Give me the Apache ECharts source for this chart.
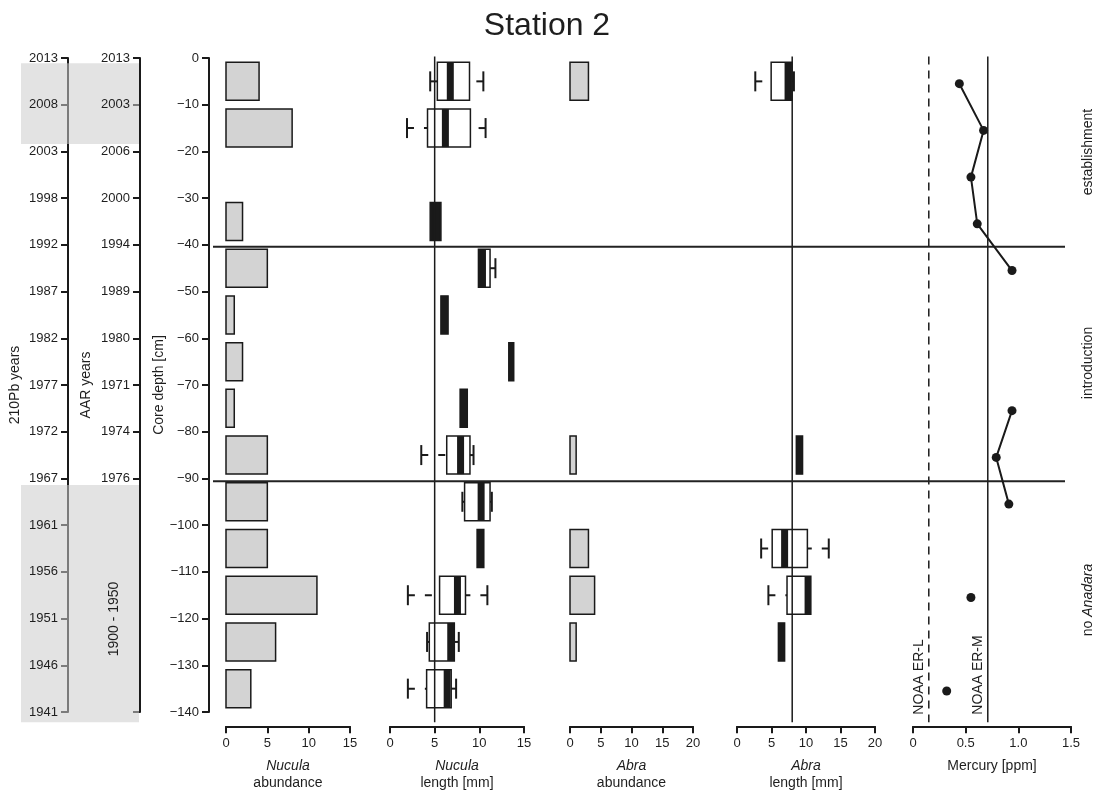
<!DOCTYPE html>
<html>
<head>
<meta charset="utf-8">
<script src="https://cdn.jsdelivr.net/npm/echarts@6/dist/echarts.min.js"></script>
<style>html,body{margin:0;padding:0;background:#fff}#c{width:1100px;height:792px}</style>
</head>
<body>
<div id="c"></div>
<script>
// ---------------- data ----------------
const depths = [-5,-15,-25,-35,-45,-55,-65,-75,-85,-95,-105,-115,-125,-135];
const nuculaAbundance = [4,8,null,2,5,1,2,1,5,5,5,11,6,3];
const nuculaLenLo  = [4.5, 1.9, null, 4.5, 9.9, 5.7, 13.3, 7.85, 3.5, 8.1, 9.75, 2.0, 4.15, 2.0];
const nuculaLenQ1  = [5.3, 4.2, null, 4.5, 9.9, 5.7, 13.3, 7.85, 6.35, 8.35, 9.75, 5.55, 4.4, 4.1];
const nuculaLenMed = [6.75, 6.2, null, 5.1, 10.35, 6.1, 13.4, 8.25, 7.9, 10.2, 10.1, 7.55, 6.8, 6.4];
const nuculaLenQ3  = [8.9, 9.0, null, 5.7, 11.2, 6.5, 13.85, 8.65, 8.95, 11.2, 10.5, 8.45, 7.2, 6.85];
const nuculaLenHi  = [10.45, 10.7, null, 5.7, 11.8, 6.5, 13.85, 8.65, 9.35, 11.4, 10.5, 10.9, 7.7, 7.4];
const abraAbundance = [3,null,null,null,null,null,null,null,1,null,3,4,1,null];
const abraLenLo  = [2.65, null,null,null,null,null,null,null, 8.6, null, 3.5, 4.55, 6.0, null];
const abraLenQ1  = [4.95, null,null,null,null,null,null,null, 8.6, null, 5.1, 7.25, 6.0, null];
const abraLenMed = [7.4,  null,null,null,null,null,null,null, 9.05, null, 6.9, 10.3, 6.45, null];
const abraLenQ3  = [7.95, null,null,null,null,null,null,null, 9.5, null, 10.2, 10.7, 6.9, null];
const abraLenHi  = [8.25, null,null,null,null,null,null,null, 9.5, null, 13.3, 10.7, 6.9, null];
const mercuryDepths = [-5.5,-15.5,-25.5,-35.5,-45.5,-55.5,-65.5,-75.5,-85.5,-95.5,-105.5,-115.5,-125.5,-135.5];
const mercury = [0.44,0.67,0.55,0.61,0.94,null,null,0.94,0.79,0.91,null,0.55,null,0.32];
const nuculaRefLength = 5;
const abraRefLength = 8;
const noaaERL = 0.15;
const noaaERM = 0.71;
const zoneBoundaries = [-40.4, -90.6];
const shadedRanges = [[-1.1, -18.4], [-91.4, -142.2]];
const pbYears = ['2013','2008','2003','1998','1992','1987','1982','1977','1972','1967','1961','1956','1951','1946','1941'];
const aarYears = ['2013','2003','2006','2000','1994','1989','1980','1971','1974','1976'];
const aarTickDepths = [0,-10,-20,-30,-40,-50,-60,-70,-80,-90,-140];
const aarLabelDepths = [0,-10,-20,-30,-40,-50,-60,-70,-80,-90];

// ---------------- layout ----------------
const FONT = "'Liberation Sans', Arial, sans-serif";
const INK = '#1a1a1a';
const TXT = '#1e1e1e';
const PXCM = (712 - 58) / 140;
const Y_MAX = 0.3, Y_MIN = -142.2;
const PTOP = 58 - Y_MAX * PXCM;
const PH = (Y_MAX - Y_MIN) * PXCM;

const panels = [
  {left:226, width:124, max:15, interval:5, name:'{i|Nucula}\nabundance'},
  {left:390, width:134, max:15, interval:5, name:'{i|Nucula}\nlength [mm]'},
  {left:570, width:123, max:20, interval:5, name:'{i|Abra}\nabundance'},
  {left:737, width:138, max:20, interval:5, name:'{i|Abra}\nlength [mm]'},
  {left:913, width:158, max:1.5, interval:0.5, name:'Mercury [ppm]'}
];

const G = o => Object.assign({containLabel:false, outerBoundsMode:'none'}, o);
const grids = [], xAxes = [], yAxes = [], series = [];
panels.forEach((p, i) => {
  grids.push(G({left:p.left, width:p.width, top:PTOP, height:PH}));
  xAxes.push({
    gridIndex:i, type:'value', min:0, max:p.max, interval:p.interval, position:'bottom', offset:4,
    axisLine:{show:true, onZero:false, lineStyle:{color:INK, width:2}},
    axisTick:{show:true, length:7, lineStyle:{color:INK, width:2}},
    axisLabel:{margin:11, fontSize:13, color:TXT, fontFamily:FONT,
      formatter: i === 4 ? (v => v === 0 ? '0' : v.toFixed(1)) : (v => String(v))},
    splitLine:{show:false},
    name:p.name, nameLocation:'middle', nameGap:31,
    nameTextStyle:{fontSize:14, color:TXT, fontFamily:FONT, lineHeight:17,
      rich:{i:{fontStyle:'italic', fontSize:14, color:TXT, fontFamily:FONT, lineHeight:17}}}
  });
  yAxes.push({gridIndex:i, type:'value', min:Y_MIN, max:Y_MAX, show:false});
});

// left axes grids: 5 = 210Pb, 6 = AAR, 7 = core depth
[68, 140, 209].forEach(x => grids.push(G({left:x, width:1, top:58, height:654})));
// 8 = zone line overlay, 9 = shading overlay
grids.push(G({left:213, width:852, top:PTOP, height:PH}));
grids.push(G({left:21, width:118, top:PTOP, height:PH}));
for (let g = 5; g <= 9; g++) xAxes.push({gridIndex:g, type:'value', min:0, max:1, show:false});

const lineAxisBase = {
  type:'value', min:-140, max:0, position:'left', z:0,
  axisLine:{show:true, onZero:false, lineStyle:{color:INK, width:2}},
  axisTick:{show:true, length:7, lineStyle:{color:INK, width:2}},
  axisLabel:{show:false}, splitLine:{show:false}
};
const labelAxisBase = {
  type:'value', min:-140, max:0, position:'left', z:10,
  axisLine:{show:false, onZero:false}, axisTick:{show:false}, splitLine:{show:false},
  nameLocation:'middle', nameRotate:90,
  nameTextStyle:{fontSize:14, color:TXT, fontFamily:FONT}
};
// 5: 210Pb line axis
yAxes.push(Object.assign({}, lineAxisBase, {gridIndex:5, interval:10}));
// 6: 210Pb label axis
yAxes.push(Object.assign({}, labelAxisBase, {gridIndex:5, interval:10, name:'210Pb years', nameGap:46,
  axisLabel:{margin:10, fontSize:13, color:TXT, fontFamily:FONT, formatter:v => pbYears[Math.round(-v/10)] || ''}}));
// 7: AAR line axis
yAxes.push(Object.assign({}, lineAxisBase, {gridIndex:6, interval:10,
  axisTick:{show:true, length:7, lineStyle:{color:INK, width:2}, customValues:aarTickDepths}}));
// 8: AAR label axis
yAxes.push(Object.assign({}, labelAxisBase, {gridIndex:6, interval:10, name:'AAR years', nameGap:47,
  axisLabel:{margin:10, fontSize:13, color:TXT, fontFamily:FONT, customValues:aarLabelDepths,
    formatter:v => aarYears[Math.round(-v/10)] || ''}}));
// 9: core depth axis
yAxes.push({type:'value', gridIndex:7, min:-140, max:0, interval:10, position:'left', z:10,
  axisLine:{show:true, onZero:false, lineStyle:{color:INK, width:2}},
  axisTick:{show:true, length:7, lineStyle:{color:INK, width:2}},
  axisLabel:{margin:10, fontSize:13, color:TXT, fontFamily:FONT, formatter:v => v === 0 ? '0' : '\u2212' + Math.abs(v)},
  splitLine:{show:false},
  name:'Core depth [cm]', nameLocation:'middle', nameRotate:90, nameGap:37,
  nameTextStyle:{fontSize:14, color:TXT, fontFamily:FONT}});
// 10, 11 overlays
yAxes.push({gridIndex:8, type:'value', min:Y_MIN, max:Y_MAX, show:false});
yAxes.push({gridIndex:9, type:'value', min:Y_MIN, max:Y_MAX, show:false});

// ---------------- renderers ----------------
const HALF = 19, CAP = 10, BAND = 7;
function barRender(params, api) {
  const d = api.value(0), v = api.value(1);
  const p0 = api.coord([0, d]), p1 = api.coord([v, d]);
  return {type:'rect', shape:{x:p0[0], y:p0[1]-HALF, width:p1[0]-p0[0], height:2*HALF},
    style:{fill:'#d3d3d3', stroke:INK, lineWidth:1.5}};
}
function boxRender(params, api) {
  const d = api.value(0);
  const X = v => api.coord([v, d])[0];
  const yc = api.coord([0, d])[1];
  const xl = X(api.value(1)), x1 = X(api.value(2)), xm = X(api.value(3)), x3 = X(api.value(4)), xh = X(api.value(5));
  const ch = [];
  if (x1 - xl > 0.5) ch.push({type:'line', shape:{x1:xl, y1:yc, x2:x1, y2:yc}, style:{stroke:INK, lineWidth:2, lineDash:[7,10]}});
  if (xh - x3 > 0.5) ch.push({type:'line', shape:{x1:xh, y1:yc, x2:x3, y2:yc}, style:{stroke:INK, lineWidth:2, lineDash:[7,10]}});
  if (x1 - xl > 0.5) ch.push({type:'line', shape:{x1:xl, y1:yc-CAP, x2:xl, y2:yc+CAP}, style:{stroke:INK, lineWidth:2}});
  if (xh - x3 > 0.5) ch.push({type:'line', shape:{x1:xh, y1:yc-CAP, x2:xh, y2:yc+CAP}, style:{stroke:INK, lineWidth:2}});
  const narrow = (x3 - x1) < 11;
  ch.push({type:'rect', shape:{x:x1, y:yc-HALF, width:Math.max(x3-x1, 1), height:2*HALF},
    style:{fill: narrow ? INK : 'rgba(255,255,255,0)', stroke:INK, lineWidth:1.5}});
  const bl = Math.max(x1, xm - BAND/2), br = Math.min(x3, xm + BAND/2);
  ch.push({type:'rect', shape:{x:bl, y:yc-HALF, width:Math.max(br-bl, 0), height:2*HALF}, style:{fill:INK}});
  return {type:'group', children:ch};
}
function shadeRender(params, api) {
  const a = api.coord([0, api.value(0)]), b = api.coord([1, api.value(1)]);
  return {type:'rect', shape:{x:a[0], y:a[1], width:b[0]-a[0], height:b[1]-a[1]},
    style:{fill:'rgba(204,204,204,0.55)'}};
}

const barData = arr => depths.map((d, i) => arr[i] == null ? null : [d, arr[i]]).filter(Boolean);
const boxData = (lo, q1, md, q3, hi) => depths.map((d, i) => md[i] == null ? null : [d, lo[i], q1[i], md[i], q3[i], hi[i]]).filter(Boolean);

series.push({type:'custom', xAxisIndex:0, yAxisIndex:0, renderItem:barRender, data:barData(nuculaAbundance), encode:{x:1, y:0}});
series.push({type:'custom', xAxisIndex:1, yAxisIndex:1, renderItem:boxRender,
  data:boxData(nuculaLenLo, nuculaLenQ1, nuculaLenMed, nuculaLenQ3, nuculaLenHi), encode:{x:[1,2,3,4,5], y:0}});
series.push({type:'custom', xAxisIndex:2, yAxisIndex:2, renderItem:barRender, data:barData(abraAbundance), encode:{x:1, y:0}});
series.push({type:'custom', xAxisIndex:3, yAxisIndex:3, renderItem:boxRender,
  data:boxData(abraLenLo, abraLenQ1, abraLenMed, abraLenQ3, abraLenHi), encode:{x:[1,2,3,4,5], y:0}});

const vline = (xi, v, dashed) => ({type:'line', xAxisIndex:xi, yAxisIndex:xi, z:3, symbol:'none', silent:true,
  data:[[v, Y_MAX], [v, Y_MIN]], lineStyle:{color:INK, width:1.5, type: dashed ? [8,6] : 'solid'}});
series.push(vline(1, nuculaRefLength, false));
series.push(vline(3, abraRefLength, false));
series.push(vline(4, noaaERL, true));
series.push(vline(4, noaaERM, false));

series.push({type:'line', xAxisIndex:4, yAxisIndex:4, z:4, symbol:'circle', symbolSize:9, showSymbol:true, showAllSymbol:true,
  connectNulls:false, itemStyle:{color:INK}, lineStyle:{color:INK, width:2},
  data: mercury.map((v, i) => v == null ? ['-', mercuryDepths[i]] : [v, mercuryDepths[i]])});

zoneBoundaries.forEach(b => series.push({type:'line', xAxisIndex:8, yAxisIndex:10, z:3, symbol:'none', silent:true,
  data:[[0, b], [1, b]], lineStyle:{color:'#222', width:2}}));

series.push({type:'custom', xAxisIndex:9, yAxisIndex:11, z:5, renderItem:shadeRender, data:shadedRanges, encode:{y:[0,1]}});

// ---------------- texts ----------------
const vtext = (x, y, text, extra) => ({type:'text', x, y, rotation:Math.PI/2, z:100,
  style:Object.assign({text, fontSize:14, fontFamily:FONT, fill:TXT, align:'center', verticalAlign:'middle'}, extra || {})});
const graphic = [
  {type:'text', x:547, y:26, z:100, style:{text:'Station 2', fontSize:32, fontFamily:FONT, fill:TXT, align:'center', verticalAlign:'middle'}},
  vtext(1088, 152, 'establishment'),
  vtext(1088, 363, 'introduction'),
  vtext(1088, 600, '{n|no }{i|Anadara}', {rich:{n:{fontSize:14, fontFamily:FONT, fill:TXT}, i:{fontSize:14, fontFamily:FONT, fontStyle:'italic', fill:TXT}}}),
  vtext(919, 677, 'NOAA ER-L'),
  vtext(978, 675, 'NOAA ER-M'),
  vtext(114, 619, '1900 - 1950')
];

const chart = echarts.init(document.getElementById('c'), null, {renderer:'canvas'});
chart.setOption({
  animation:false, backgroundColor:'#fff',
  grid:grids, xAxis:xAxes, yAxis:yAxes, series, graphic
});
</script>
</body>
</html>
